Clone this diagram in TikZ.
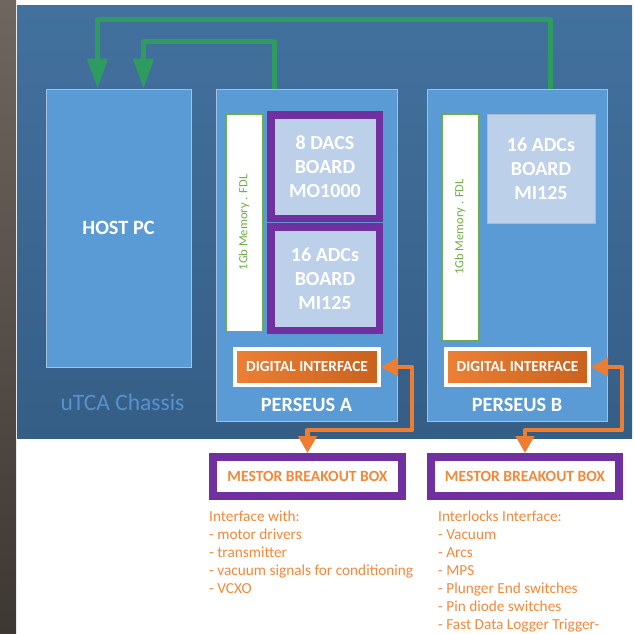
\documentclass[tikz,border=0pt]{standalone}
\usepackage{fontspec}
\setmainfont{Carlito}
\usetikzlibrary{arrows.meta}

\definecolor{chassistop}{RGB}{67,113,158}
\definecolor{chassisbot}{RGB}{53,94,134}
\definecolor{unitblue}{RGB}{91,155,213}
\definecolor{unitedge}{RGB}{165,192,222}
\definecolor{boardblue}{RGB}{189,208,233}
\definecolor{boardedge}{RGB}{170,185,205}
\definecolor{mpurple}{RGB}{112,48,160}
\definecolor{memgreen}{RGB}{112,173,71}
\definecolor{linkgreen}{RGB}{46,155,95}
\definecolor{busorange}{RGB}{237,125,49}
\definecolor{orangelight}{RGB}{236,128,52}
\definecolor{orangedark}{RGB}{200,98,30}
\definecolor{textorange}{RGB}{244,136,58}
\definecolor{chassistext}{RGB}{88,145,205}
\definecolor{photolight}{RGB}{112,102,96}
\definecolor{photodark}{RGB}{62,56,50}

\begin{document}
\begin{tikzpicture}[x=1pt,y=-1pt,
  unit/.style={draw=unitedge, line width=1pt, fill=unitblue, text=white, font=\bfseries\fontsize{20.3}{24}\selectfont},
  memory/.style={draw=memgreen, line width=0.8pt, fill=white, minimum width=36pt, inner sep=0pt},
  memtext/.style={rotate=90, text=memgreen, font=\fontsize{12.5}{14}\selectfont},
  board/.style={fill=boardblue, text=white, align=center, inner sep=0pt, font=\bfseries\fontsize{20}{24}\selectfont},
  frame/.style={board, draw=mpurple, line width=7.5pt, minimum width=108.5pt, minimum height=103.5pt},
  digital/.style={draw=white, line width=4pt, left color=orangelight, right color=orangedark, text=white, minimum width=144pt, minimum height=36pt, inner sep=0pt, font=\bfseries\fontsize{15.3}{16}\selectfont},
  mestor/.style={draw=mpurple, line width=8pt, fill=white, text=textorange, minimum height=39pt, inner sep=0pt, font=\bfseries\fontsize{15.6}{16}\selectfont},
  notes/.style={text=textorange, align=left, anchor=north west, inner sep=0pt, font=\fontsize{15.3}{18}\selectfont},
  caption/.style={text=white, font=\bfseries\fontsize{20.3}{24}\selectfont},
  link/.style={draw=linkgreen, line width=5pt, line join=round, -{Triangle[width=20pt,length=30pt]}},
  bus/.style={draw=busorange, line width=4.5pt, line join=round, {Triangle[width=18pt,length=17pt]}-{Triangle[width=18pt,length=17pt]}}]

  \useasboundingbox (0,0) rectangle (634,633);
  \fill [top color=photolight, bottom color=photodark] (0,0) rectangle (16,633);

  \node (chassis) at (324.5,221.5) [minimum width=615pt, minimum height=433pt, inner sep=0pt, top color=chassistop, bottom color=chassisbot] {};
  \node (chassislabel) at (122.5,402) [text=chassistext, font=\fontsize{23.5}{24}\selectfont] {uTCA Chassis};

  \node (host) at (118.5,228) [unit, minimum width=145pt, minimum height=278pt] {HOST PC};
  \node (persA) at (306.5,255) [unit, minimum width=181pt, minimum height=332pt] {};
  \node (persB) at (517,255) [unit, minimum width=180pt, minimum height=332pt] {};

  \node (memA) at (244,222.5) [memory, minimum height=217pt, label={[memtext]center:1Gb Memory . FDL}] {};
  \node (memB) at (460,227) [memory, minimum height=226pt, label={[memtext]center:1Gb Memory . FDL}] {};

  \node (dacA) at (325,166.5) [frame] {8 DACS\\BOARD\\MO1000};
  \node (adcA) at (325,278.5) [frame] {16 ADCs\\BOARD\\MI125};
  \node (adcB) at (541,168.5) [board, draw=boardedge, line width=0.6pt, minimum width=108pt, minimum height=109pt] {16 ADCs\\BOARD\\MI125};

  \node (digA) at (307,367) [digital] {DIGITAL INTERFACE};
  \node (digB) at (517.5,367) [digital, minimum width=143pt] {DIGITAL INTERFACE};
  \node (labA) at (306.5,405) [caption] {PERSEUS A};
  \node (labB) at (517,405) [caption] {PERSEUS B};

  \node (mesA) at (307.5,476.5) [mestor, minimum width=189pt] {MESTOR BREAKOUT BOX};
  \node (mesB) at (525,476.5) [mestor, minimum width=188pt] {MESTOR BREAKOUT BOX};

  \node (notesA) at (209,511) [notes] {Interface with:\\- motor drivers\\- transmitter\\- vacuum signals for conditioning\\- VCXO};
  \node (notesB) at (438,511) [notes] {Interlocks Interface:\\- Vacuum\\- Arcs\\- MPS\\- Plunger End switches\\- Pin diode switches\\- Fast Data Logger Trigger-};

  \draw [link] ([xshift=124pt]persB.north west) -- ++(0,-69) -| ([xshift=52pt]host.north west);
  \draw [link] ([xshift=59pt]persA.north west) -- ++(0,-47) -| ([xshift=98pt]host.north west);

  \draw [bus] (digA.east) -- ++(31,0) -- ++(0,63) -| (mesA.north);
  \draw [bus] (digB.east) -- ++(31,0) -- ++(0,63) -| (mesB.north);

\end{tikzpicture}
\end{document}
